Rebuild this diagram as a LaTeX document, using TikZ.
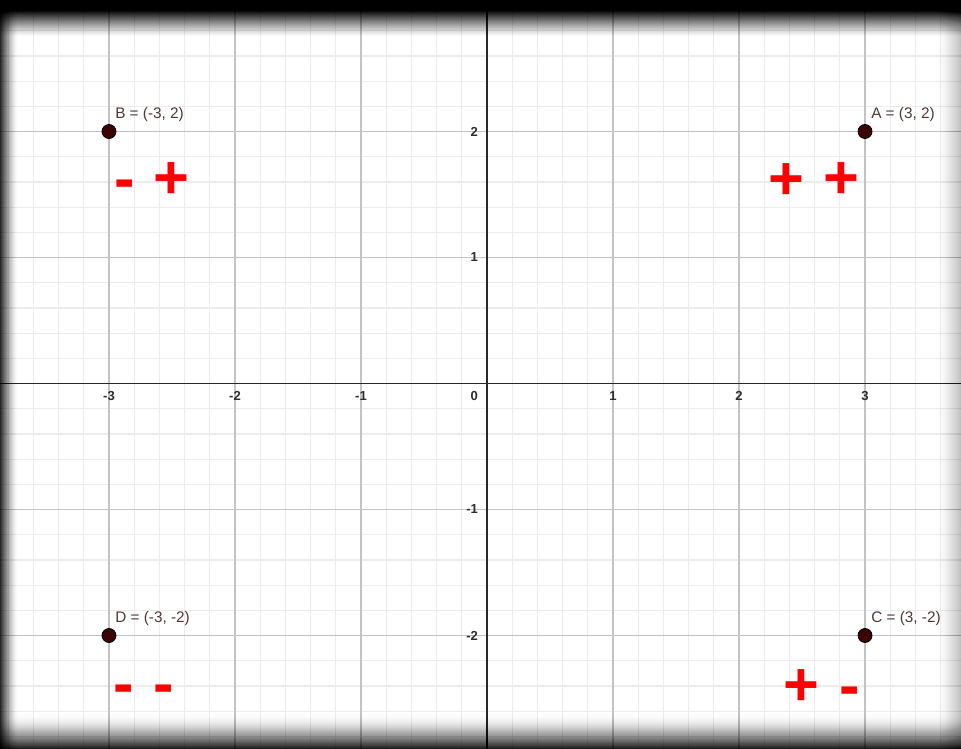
\documentclass[tikz,border=0pt]{standalone}
\usepackage{fontspec}
\setmainfont{Liberation Sans}
\definecolor{minorgrid}{RGB}{236,236,236}
\definecolor{majorgrid}{RGB}{195,195,195}
\definecolor{axiscol}{RGB}{40,40,40}
\definecolor{ptfill}{RGB}{60,5,5}
\definecolor{lblcol}{RGB}{80,55,55}
\definecolor{tickcol}{RGB}{45,45,45}
\definecolor{signred}{RGB}{255,0,0}
\tikzset{
  minorline/.style={draw=minorgrid, line width=0.9pt},
  majorline/.style={draw=majorgrid, line width=0.8pt},
  axisline/.style={draw=axiscol, line width=1.4pt},
  ticklbl/.style={text=tickcol, font=\fontsize{9.8}{11}\selectfont\bfseries, inner sep=0pt},
  ptdot/.style={circle, fill=ptfill, draw=black, line width=0.6pt, inner sep=0pt, minimum size=10.5pt},
  ptlbl/.style={text=lblcol, font=\fontsize{11.5}{13}\selectfont, inner sep=0pt, anchor=base west},
  signtxt/.style={text=signred, font=\fontsize{46}{50}\selectfont\bfseries, inner sep=0pt, anchor=base},
}
\begin{document}
\begin{tikzpicture}[x=0.75pt,y=-0.75pt]
\useasboundingbox (0,0) rectangle (961,749);
\fill[white] (0,0) rectangle (961,749);
\begin{scope}[shift={(487,383.5)}, x=94.5pt, y=94.5pt]
  % minor grid
  \foreach \i in {-20,...,19} \draw[minorline] (\i/5,-3) -- (\i/5,3.1);
  \foreach \j in {-15,...,16} \draw[minorline] (-3.9,\j/5) -- (3.8,\j/5);
  % major grid
  \foreach \i in {-3,...,3} \draw[majorline] (\i,-3) -- (\i,3.1);
  \foreach \j in {-2,...,3} \draw[majorline] (-3.9,\j) -- (3.8,\j);
  % axes
  \draw[axisline] (-3.9,0) -- (3.8,0);
  \draw[axisline] (0,-3) -- (0,3.1);
  % tick labels
  \node[ticklbl, anchor=north] (txm3) at (-3,-0.06) {-3};
  \node[ticklbl, anchor=north] (txm2) at (-2,-0.06) {-2};
  \node[ticklbl, anchor=north] (txm1) at (-1,-0.06) {-1};
  \node[ticklbl, anchor=north] (tx1) at (1,-0.06) {1};
  \node[ticklbl, anchor=north] (tx2) at (2,-0.06) {2};
  \node[ticklbl, anchor=north] (tx3) at (3,-0.06) {3};
  \node[ticklbl, anchor=north east] (tzero) at (-0.07,-0.06) {0};
  \node[ticklbl, anchor=east] (ty2) at (-0.07,2) {2};
  \node[ticklbl, anchor=east] (ty1) at (-0.07,1) {1};
  \node[ticklbl, anchor=east] (tym1) at (-0.07,-1) {-1};
  \node[ticklbl, anchor=east] (tym2) at (-0.07,-2) {-2};
  % points
  \node[ptdot] (A) at (3,2) {};
  \node[ptdot] (B) at (-3,2) {};
  \node[ptdot] (C) at (3,-2) {};
  \node[ptdot] (D) at (-3,-2) {};
  \node[ptlbl] (labA) at ([xshift=4.5pt,yshift=9.4pt]A.center) {A = (3, 2)};
  \node[ptlbl] (labB) at ([xshift=4.5pt,yshift=9.4pt]B.center) {B = (-3, 2)};
  \node[ptlbl] (labC) at ([xshift=4.5pt,yshift=9.4pt]C.center) {C = (3, -2)};
  \node[ptlbl] (labD) at ([xshift=4.5pt,yshift=9.4pt]D.center) {D = (-3, -2)};
\end{scope}
% signs (pixel coordinates, baseline)
\node[signtxt] (sB1) at (125,199) {-};
\node[signtxt] (sB2) at (171,198) {+};
\node[signtxt] (sA1) at (786,199) {+};
\node[signtxt] (sA2) at (841,198) {+};
\node[signtxt] (sD1) at (124,704) {-};
\node[signtxt] (sD2) at (164,704) {-};
\node[signtxt] (sC1) at (801,705.5) {+};
\node[signtxt] (sC2) at (850,706.7) {-};
% vignette: top
\foreach \k in {1,...,38} {
  \pgfmathsetmacro\aa{0.995*max(0.00001,min(1,(37-(\k-0.5))/27))^1.3}
  \pgfmathsetmacro\ab{0.995*max(0.00001,min(1,(37-(\k+0.5))/27))^1.3}
  \pgfmathsetmacro\op{max(0,1-(1-\aa)/(1-\ab))}
  \fill[black, opacity=\op] (0,0) rectangle (961,\k);
}
% bottom
\foreach \k in {1,...,37} {
  \pgfmathsetmacro\aa{0.85*max(0.00001,1-(\k-0.5)/36)^1.8}
  \pgfmathsetmacro\ab{0.85*max(0.00001,1-(\k+0.5)/36)^1.8}
  \pgfmathsetmacro\op{max(0,1-(1-\aa)/(1-\ab))}
  \fill[black, opacity=\op] (0,749-\k) rectangle (961,749);
}
% left
\foreach \k in {1,...,19} {
  \pgfmathsetmacro\aa{0.85*max(0.00001,1-(\k-0.5)/18)^1.5}
  \pgfmathsetmacro\ab{0.85*max(0.00001,1-(\k+0.5)/18)^1.5}
  \pgfmathsetmacro\op{max(0,1-(1-\aa)/(1-\ab))}
  \fill[black, opacity=\op] (0,0) rectangle (\k,749);
}
% right
\foreach \k in {1,...,23} {
  \pgfmathsetmacro\aa{0.22*max(0.00001,1-(\k-0.5)/22)^1.2}
  \pgfmathsetmacro\ab{0.22*max(0.00001,1-(\k+0.5)/22)^1.2}
  \pgfmathsetmacro\op{max(0,1-(1-\aa)/(1-\ab))}
  \fill[black, opacity=\op] (961-\k,0) rectangle (961,749);
}
\end{tikzpicture}
\end{document}
